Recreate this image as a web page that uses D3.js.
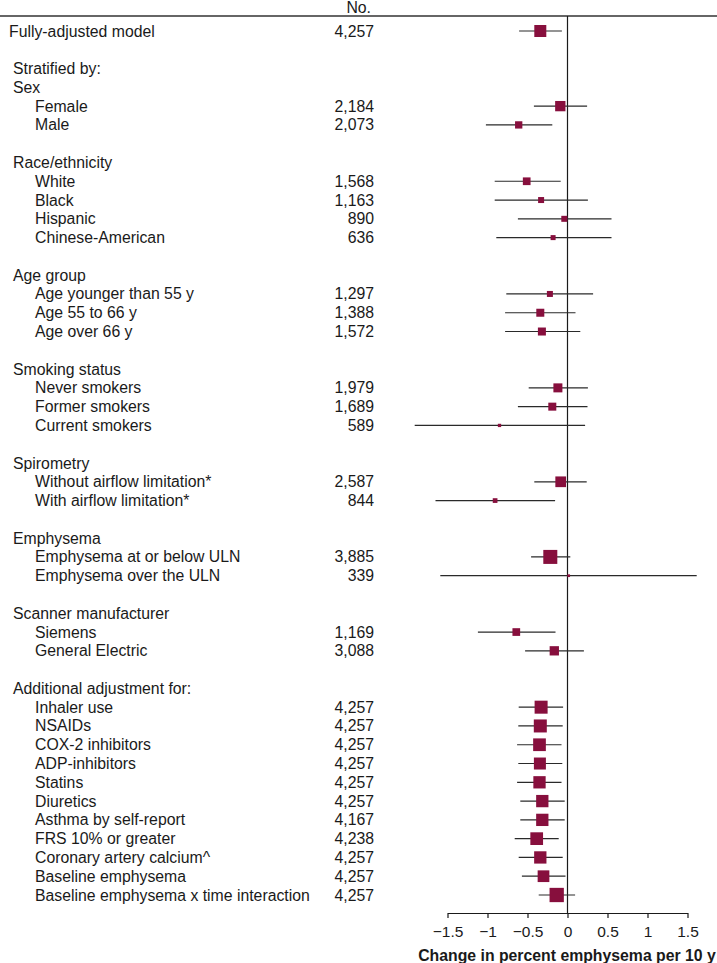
<!DOCTYPE html>
<html>
<head>
<meta charset="utf-8">
<script src="https://cdn.jsdelivr.net/npm/d3@7/dist/d3.min.js"></script>
<style>
  html, body { margin: 0; padding: 0; background: #fff; }
  svg { display: block; font-family: "Liberation Sans", Arial, Helvetica, sans-serif; }
</style>
</head>
<body>
<svg id="chart" width="717" height="963"></svg>
<script>
// ---- DATA ----
const labels = [
  "Fully-adjusted model", "", "Stratified by:", "Sex", "Female", "Male", "",
  "Race/ethnicity", "White", "Black", "Hispanic", "Chinese-American", "",
  "Age group", "Age younger than 55 y", "Age 55 to 66 y", "Age over 66 y", "",
  "Smoking status", "Never smokers", "Former smokers", "Current smokers", "",
  "Spirometry", "Without airflow limitation*", "With airflow limitation*", "",
  "Emphysema", "Emphysema at or below ULN", "Emphysema over the ULN", "",
  "Scanner manufacturer", "Siemens", "General Electric", "",
  "Additional adjustment for:", "Inhaler use", "NSAIDs", "COX-2 inhibitors",
  "ADP-inhibitors", "Statins", "Diuretics", "Asthma by self-report",
  "FRS 10% or greater", "Coronary artery calcium^", "Baseline emphysema",
  "Baseline emphysema x time interaction"
];
// 0 = top-level model, 1 = group header, 2 = sub item
const levels = [
  0, 0, 1, 1, 2, 2, 0,
  1, 2, 2, 2, 2, 0,
  1, 2, 2, 2, 0,
  1, 2, 2, 2, 0,
  1, 2, 2, 0,
  1, 2, 2, 0,
  1, 2, 2, 0,
  1, 2, 2, 2, 2, 2, 2, 2, 2, 2, 2, 2
];
const counts = [
  4257, null, null, null, 2184, 2073, null,
  null, 1568, 1163, 890, 636, null,
  null, 1297, 1388, 1572, null,
  null, 1979, 1689, 589, null,
  null, 2587, 844, null,
  null, 3885, 339, null,
  null, 1169, 3088, null,
  null, 4257, 4257, 4257, 4257, 4257, 4257, 4167, 4238, 4257, 4257, 4257
];
const estimates = [
  -0.34, null, null, null, -0.09, -0.61, null,
  null, -0.51, -0.33, -0.04, -0.18, null,
  null, -0.22, -0.34, -0.32, null,
  null, -0.12, -0.19, -0.85, null,
  null, -0.085, -0.905, null,
  null, -0.215, 0.015, null,
  null, -0.64, -0.165, null,
  null, -0.33, -0.34, -0.35, -0.345, -0.35, -0.315, -0.315, -0.385, -0.34, -0.30, -0.135
];
const lower = [
  -0.605, null, null, null, -0.42, -1.02, null,
  null, -0.91, -0.91, -0.62, -0.89, null,
  null, -0.765, -0.78, -0.78, null,
  null, -0.485, -0.62, -1.91, null,
  null, -0.415, -1.65, null,
  null, -0.455, -1.59, null,
  null, -1.12, -0.53, null,
  null, -0.61, -0.615, -0.63, -0.615, -0.63, -0.59, -0.59, -0.66, -0.61, -0.57, -0.36
];
const upper = [
  -0.07, null, null, null, 0.245, -0.19, null,
  null, -0.085, 0.255, 0.55, 0.55, null,
  null, 0.32, 0.10, 0.16, null,
  null, 0.255, 0.25, 0.22, null,
  null, 0.24, -0.155, null,
  null, 0.035, 1.615, null,
  null, -0.15, 0.205, null,
  null, -0.055, -0.06, -0.075, -0.065, -0.075, -0.035, -0.035, -0.11, -0.06, -0.025, 0.095
];
// relative precision weight (box size)
const weights = [
  12, null, null, null, 10.3, 7.3, null,
  null, 7.7, 6, 6, 5, null,
  null, 6, 8, 8, null,
  null, 9, 8, 3.3, null,
  null, 10.7, 4.7, null,
  null, 14, 2.7, null,
  null, 7.7, 9.3, null,
  null, 13, 13, 12.7, 12, 12.3, 12.3, 12.3, 12.7, 12.3, 11.7, 14.3
];
const xTicks = [-1.5, -1, -0.5, 0, 0.5, 1, 1.5];
const countHeader = "No.";
const xTitle = "Change in percent emphysema per 10 y";

// ---- CHART ----
const svg = d3.select("#chart");
const W = 717;
const rows = labels.map((l, i) => ({
  i, label: l, level: levels[i], n: counts[i], est: estimates[i],
  lo: lower[i], hi: upper[i], w: weights[i]
}));

const y = d3.scaleLinear().domain([0, labels.length - 1]).range([31, 895]);
const x = d3.scaleLinear().domain([-1.5, 1.5]).range([447.5, 687.5]);
const size = d3.scaleLinear().domain([0, 14.3]).range([0, 14.3]);
const indent = { 0: 9, 1: 13, 2: 35 };
const axisY = 913;
const topY = 16;
const fmt = d3.format(",");
const ink = "#1a1a1a";
const boxColor = "#870f3d";
const fs = 15.8;

// top rule
svg.append("line")
  .attr("x1", 0).attr("x2", W).attr("y1", topY).attr("y2", topY)
  .attr("stroke", "#333").attr("stroke-width", 1.3);

svg.append("text")
  .attr("x", 371).attr("y", 13)
  .attr("text-anchor", "end")
  .attr("font-size", fs).attr("fill", ink)
  .text(countHeader);

// zero line
svg.append("line")
  .attr("x1", x(0)).attr("x2", x(0))
  .attr("y1", topY).attr("y2", axisY)
  .attr("stroke", ink).attr("stroke-width", 1.2);

// labels
svg.append("g").selectAll("text")
  .data(rows.filter(d => d.label !== ""))
  .join("text")
  .attr("x", d => indent[d.level])
  .attr("y", d => y(d.i))
  .attr("dy", "0.35em")
  .attr("font-size", fs).attr("fill", ink)
  .text(d => d.label);

// counts
svg.append("g").selectAll("text")
  .data(rows.filter(d => d.n != null))
  .join("text")
  .attr("x", 374)
  .attr("y", d => y(d.i))
  .attr("dy", "0.35em")
  .attr("text-anchor", "end")
  .attr("font-size", fs).attr("fill", ink)
  .text(d => fmt(d.n));

const est = rows.filter(d => d.est != null);

// CIs
svg.append("g").selectAll("line")
  .data(est)
  .join("line")
  .attr("x1", d => x(d.lo)).attr("x2", d => x(d.hi))
  .attr("y1", d => y(d.i)).attr("y2", d => y(d.i))
  .attr("stroke", "#2a2a2a").attr("stroke-width", 1.2);

// boxes
svg.append("g").selectAll("rect")
  .data(est)
  .join("rect")
  .attr("x", d => x(d.est) - size(d.w) / 2)
  .attr("y", d => y(d.i) - size(d.w) / 2)
  .attr("width", d => size(d.w))
  .attr("height", d => size(d.w))
  .attr("fill", boxColor);

// axis
const axis = d3.axisBottom(x)
  .tickValues(xTicks)
  .tickSize(5)
  .tickSizeOuter(0)
  .tickFormat(d => d3.format("")(d).replace("-", "\u2212"));
const gAxis = svg.append("g")
  .attr("transform", `translate(0,${axisY})`)
  .call(axis);
gAxis.select(".domain").attr("stroke", ink).attr("stroke-width", 1.2);
gAxis.selectAll(".tick line").attr("stroke", ink).attr("stroke-width", 1.2);
gAxis.selectAll(".tick text")
  .attr("y", 13)
  .attr("font-size", 15.5)
  .attr("font-family", "'Liberation Sans', Arial, Helvetica, sans-serif")
  .attr("fill", ink);

svg.append("text")
  .attr("x", 567).attr("y", 955)
  .attr("dy", "0.35em")
  .attr("text-anchor", "middle")
  .attr("font-size", 15.8).attr("font-weight", "bold").attr("fill", ink)
  .text(xTitle);
</script>
</body>
</html>
